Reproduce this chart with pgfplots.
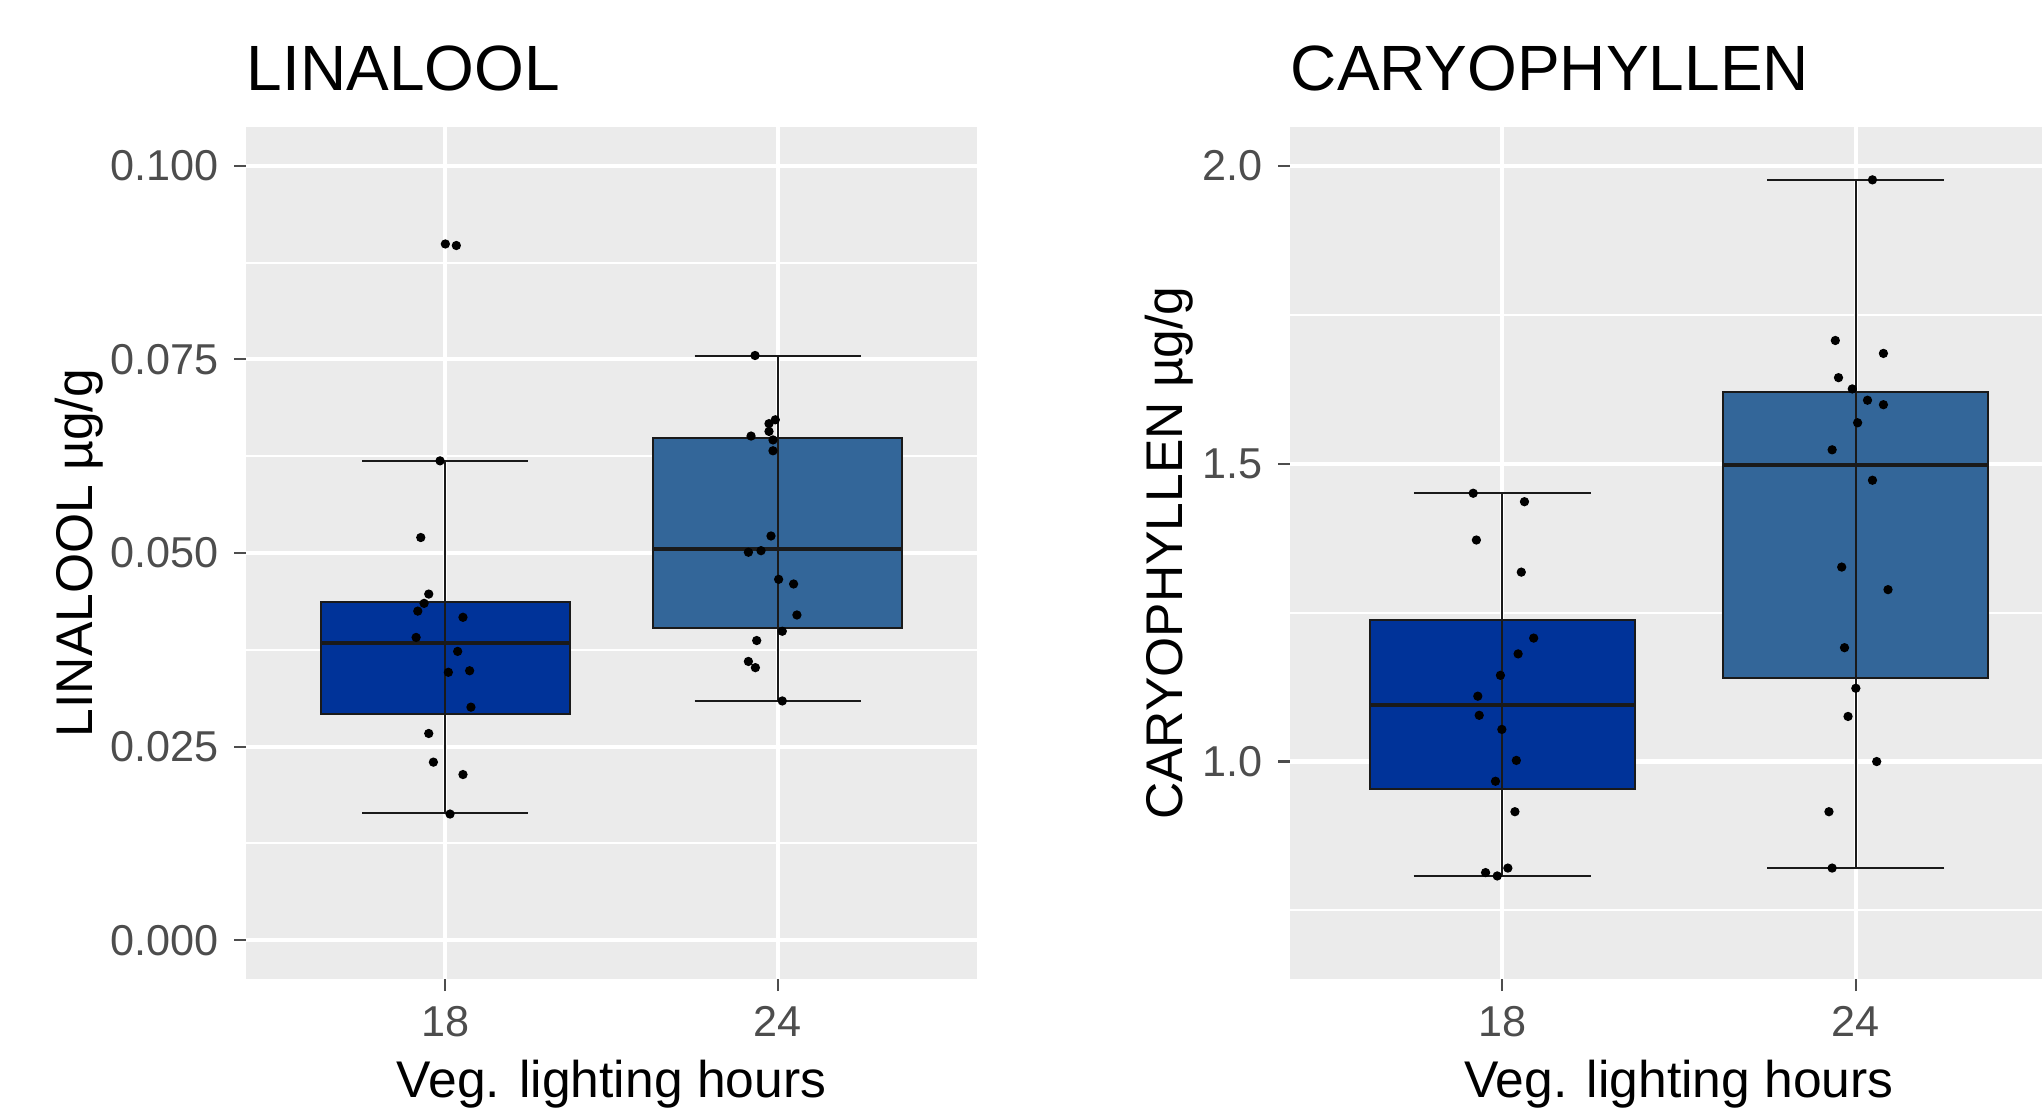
\documentclass[border=0pt]{standalone}
\usepackage{fontspec}
\setmainfont{Liberation Sans}
\usepackage{pgfplots}
\pgfplotsset{compat=1.18}
\usepgfplotslibrary{statistics}
\definecolor{panel}{HTML}{EBEBEB}
\definecolor{tickgray}{HTML}{4D4D4D}
\definecolor{darkblue}{HTML}{003399}
\definecolor{midblue}{HTML}{336699}
\definecolor{boxline}{HTML}{1A1A1A}

\pgfplotsset{
  gg/.style={
    scale only axis,
    anchor=south west,
    height=213pt,
    xmin=0.4, xmax=2.6,
    xtick={1,2}, xticklabels={18,24},
    axis lines*=left,
    axis line style={draw=none},
    axis background/.style={fill=panel},
    tick align=outside,
    major tick length=3pt,
    minor tick length=0pt,
    tick style={color=tickgray, line width=0.55pt},
    grid=both,
    major grid style={white, line width=1.05pt},
    minor grid style={white, line width=0.5pt},
    ticklabel style={font=\fontsize{10.8}{12}\selectfont, text=tickgray, inner sep=0pt},
    xticklabel style={anchor=north},
    yticklabel style={anchor=east},
    xticklabel shift=3.75pt,
    yticklabel shift=3.75pt,
    scaled y ticks=false,
    every axis title/.style={at={([yshift=9.25pt]axis description cs:0,1)}, anchor=base west, inner sep=0pt, font=\fontsize{16}{18}\selectfont},
    every axis x label/.style={at={([yshift=-29.5pt]axis description cs:0.5,0)}, anchor=base, inner sep=0pt, font=\fontsize{12.9}{14}\selectfont},
    boxplot/draw direction=y,
    boxplot/every median/.style={line width=1.0pt},
  },
  ggbox/.style={draw=boxline, line width=0.5pt, solid, mark=none},
  ggpts/.style={only marks, mark=*, mark size=0.95pt, black},
}

\begin{document}
\begin{tikzpicture}
\path[use as bounding box] (0,0) rectangle (510.5pt,276.75pt);

% ---------------- LINALOOL ----------------
\begin{axis}[gg,
  at={(61.5pt,32pt)}, width=182.75pt,
  ymin=-0.005, ymax=0.105,
  ytick={0,0.025,0.05,0.075,0.1},
  yticklabels={0.000,0.025,0.050,0.075,0.100},
  minor ytick={0.0125,0.0375,0.0625,0.0875},
  title={LINALOOL},
  xlabel={Veg. lighting hours},
  every axis y label/.style={at={([xshift=-38.3pt]axis description cs:0,0.5)}, rotate=90, anchor=base, inner sep=0pt, font=\fontsize{12.9}{14}\selectfont},
  ylabel={LINALOOL µg/g},
]
\addplot[ggbox, fill=darkblue, boxplot prepared={draw position=1,
  lower whisker=0.01648, lower quartile=0.02919, median=0.03842,
  upper quartile=0.04372, upper whisker=0.06194,
  box extend=0.75, whisker extend=0.5}] coordinates {};
\addplot[ggbox, fill=midblue, boxplot prepared={draw position=2,
  lower whisker=0.03086, lower quartile=0.04038, median=0.05047,
  upper quartile=0.06485, upper whisker=0.07538,
  box extend=0.75, whisker extend=0.5}] coordinates {};
\addplot[ggbox] coordinates {(1,0.01648) (1,0.06194)};
\addplot[ggbox] coordinates {(2,0.03086) (2,0.07538)};
\addplot[ggpts] coordinates {
 (1.000,0.0899) (1.033,0.0897) (0.984,0.0619) (0.926,0.0520) (0.950,0.0447)
 (0.936,0.0435) (0.917,0.0425) (1.053,0.0417) (0.912,0.0391) (1.037,0.0373)
 (1.009,0.0346) (1.073,0.0348) (1.077,0.0301) (0.950,0.0267) (0.964,0.0230)
 (1.053,0.0214) (1.014,0.0163)
};
\addplot[ggpts] coordinates {
 (1.932,0.0755) (1.993,0.0672) (1.974,0.0667) (1.974,0.0657) (1.920,0.0651)
 (1.986,0.0646) (1.986,0.0632) (1.980,0.0522) (1.912,0.0501) (1.950,0.0503)
 (2.003,0.0466) (2.048,0.0460) (2.058,0.0420) (2.014,0.0399) (1.937,0.0387)
 (1.912,0.0360) (1.933,0.0352) (2.014,0.0309)
};
\end{axis}

% ---------------- CARYOPHYLLEN ----------------
\begin{axis}[gg,
  at={(322.5pt,32pt)}, width=194.5pt,
  ymin=0.635, ymax=2.065,
  ytick={1,1.5,2},
  yticklabels={1.0,1.5,2.0},
  minor ytick={0.75,1.25,1.75},
  title={CARYOPHYLLEN},
  xlabel={Veg. lighting hours},
  every axis y label/.style={at={([xshift=-27pt]axis description cs:0,0.5)}, rotate=90, anchor=base, inner sep=0pt, font=\fontsize{12.9}{14}\selectfont},
  ylabel={CARYOPHYLLEN µg/g},
]
\addplot[ggbox, fill=darkblue, boxplot prepared={draw position=1,
  lower whisker=0.8080, lower quartile=0.9536, median=1.0946,
  upper quartile=1.2375, upper whisker=1.4503,
  box extend=0.75, whisker extend=0.5}] coordinates {};
\addplot[ggbox, fill=midblue, boxplot prepared={draw position=2,
  lower whisker=0.8212, lower quartile=1.1400, median=1.4976,
  upper quartile=1.6197, upper whisker=1.9763,
  box extend=0.75, whisker extend=0.5}] coordinates {};
\addplot[ggbox] coordinates {(1,0.8080) (1,1.4503)};
\addplot[ggbox] coordinates {(2,0.8212) (2,1.9763)};
\addplot[ggpts] coordinates {
 (0.918,1.4503) (1.063,1.4361) (0.927,1.3718) (1.054,1.3179) (1.089,1.2072)
 (1.045,1.1807) (0.995,1.1447) (0.931,1.1097) (0.935,1.0776) (0.999,1.0539)
 (1.040,1.0019) (0.981,0.9669) (1.036,0.9158) (1.016,0.8212) (0.953,0.8136)
 (0.986,0.8080)
};
\addplot[ggpts] coordinates {
 (2.047,1.9763) (1.942,1.7067) (2.078,1.6850) (1.951,1.6443) (1.990,1.6254)
 (2.033,1.6064) (2.078,1.5989) (2.005,1.5686) (1.933,1.5232) (2.047,1.4721)
 (1.960,1.3264) (2.091,1.2885) (1.968,1.1911) (2.000,1.1230) (1.978,1.0757)
 (2.059,1.0000) (1.924,0.9158) (1.933,0.8212)
};
\end{axis}
\end{tikzpicture}
\end{document}
